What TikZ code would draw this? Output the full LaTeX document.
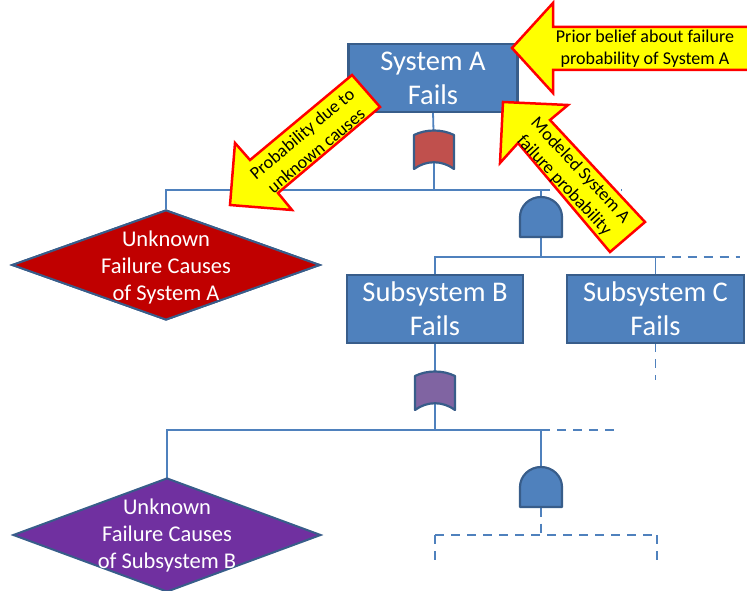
\documentclass[tikz,border=0pt]{standalone}
\usepackage{fontspec}
\setmainfont{Carlito}
\usetikzlibrary{shapes.geometric,calc}
\definecolor{boxfill}{HTML}{4F81BD}
\definecolor{boxline}{HTML}{385D8A}
\definecolor{unkred}{HTML}{C00000}
\definecolor{unkpurple}{HTML}{7030A0}
\definecolor{orred}{HTML}{C0504D}
\definecolor{orpurple}{HTML}{8064A2}
\definecolor{arrowfill}{HTML}{FFFF00}
\definecolor{arrowline}{HTML}{FF0000}
\newcommand{\draworgate}[2]{%
  \draw[gateline, fill=#2] ($(#1)+(-20,-15)$) .. controls ($(#1)+(-8,-21)$) and ($(#1)+(8,-21)$) .. ($(#1)+(20,-15)$)
    -- ($(#1)+(20,19)$) .. controls ($(#1)+(8,10)$) and ($(#1)+(-8,10)$) .. ($(#1)+(-20,19)$) -- cycle;}
\newcommand{\drawandgate}[1]{%
  \draw[gateline, fill=boxfill] ($(#1)+(-21,20)$) -- ($(#1)+(-21,0)$) .. controls ($(#1)+(-21,-11)$) and ($(#1)+(-11.6,-20)$) .. ($(#1)+(0,-20)$)
    .. controls ($(#1)+(11.6,-20)$) and ($(#1)+(21,-11)$) .. ($(#1)+(21,0)$) -- ($(#1)+(21,20)$) -- cycle;}
\begin{document}
\begin{tikzpicture}[x=1pt,y=-1pt,
  eventbox/.style={rectangle, draw=boxline, fill=boxfill, line width=2.5pt, minimum height=68pt,
    text=white, align=center, font=\fontsize{28.5}{34}\selectfont, inner sep=0pt},
  unkdiamond/.style={diamond, draw=boxline, line width=2pt, minimum width=308pt, minimum height=110pt, inner sep=0pt},
  unktext/.style={text=white, align=center, font=\fontsize{22.5}{27}\selectfont, inner sep=0pt},
  gatenode/.style={rectangle, minimum width=40pt, minimum height=40pt, inner sep=0pt},
  gateline/.style={draw=boxline, line width=2.2pt, line join=round},
  conn/.style={draw=boxfill, line width=1.8pt},
  dconn/.style={conn, dash pattern=on 9pt off 7pt},
  bigarrow/.style={fill=arrowfill, draw=arrowline, line width=2.5pt, line join=miter},
  arrowtext/.style={text=black, align=center, font=\fontsize{18}{22}\selectfont, inner sep=0pt}]
\useasboundingbox (0,0) rectangle (747,591);

% node positions
\node[gatenode, minimum width=169pt, minimum height=68pt] (sysA) at (433,78) {};
\node[gatenode] (orA) at (434,150) {};
\node[unkdiamond, fill=unkred] (unkA) at (166,265) {};
\node[gatenode, minimum width=42pt, minimum height=41pt] (andA) at (541,217) {};
\node[gatenode, minimum width=176pt, minimum height=68pt] (subB) at (435,309) {};
\node[gatenode, minimum width=177pt, minimum height=68pt] (subC) at (655.5,309) {};
\node[gatenode, minimum height=42pt] (orB) at (435,391) {};
\node[gatenode, minimum width=308pt, minimum height=114pt] (unkB) at (167,535) {};
\node[gatenode, minimum width=42pt, minimum height=41pt] (andB) at (541,487) {};

\coordinate (busA) at (0,190);
\coordinate (busAend) at (622,190);
\coordinate (busM) at (0,257);
\coordinate (busMend) at (740,257);
\coordinate (subCend) at (655.5,380);
\coordinate (busB) at (0,430);
\coordinate (busBend) at (620,430);
\coordinate (busL) at (0,535);
\coordinate (leafL) at (435,535);
\coordinate (leafR) at (657,535);
\coordinate (leafLend) at (435,566);
\coordinate (leafRend) at (657,566);

% connectors
\draw[conn] (sysA.south) -- (orA.center);
\draw[conn] (orA.center) -- (orA.center |- busA);
\draw[conn] (unkA.north) -- (unkA.north |- busA) -- (andA.center |- busA) -- (andA.center);
\draw[dconn] (andA.center |- busA) -- (busAend);
\draw[conn] (andA.center) -- (andA.center |- busM);
\draw[conn] (subB.north) -- (subB.north |- busM) -- (subC.north |- busM) -- (subC.north);
\draw[dconn] (subC.north |- busM) -- (busMend);
\draw[dconn] (subC.south) -- (subCend);
\draw[conn] (subB.south) -- (orB.center);
\draw[conn] (orB.center) -- (orB.center |- busB);
\draw[conn] (unkB.north) -- (unkB.north |- busB) -- (andB.center |- busB) -- (andB.center);
\draw[dconn] (andB.center |- busB) -- (busBend);
\draw[dconn] (andB.south) -- (andB.south |- busL);
\draw[dconn] (leafL) -- (leafR);
\draw[dconn] (leafL) -- (leafLend);
\draw[dconn] (leafR) -- (leafRend);

% shapes on top
\node[eventbox, minimum width=169pt] (sysAbox) at (sysA) {System A\\Fails};
\node[eventbox, minimum width=176pt] (subBbox) at (subB) {Subsystem B\\Fails};
\node[eventbox, minimum width=177pt] (subCbox) at (subC) {Subsystem C\\Fails};
\node[unkdiamond, fill=unkred] (unkAshape) at (unkA) {};
\node[unktext] (unkAtext) at (166,267) {Unknown\\Failure Causes\\of System A};
\node[unkdiamond, fill=unkpurple, minimum height=114pt] (unkBshape) at (unkB) {};
\node[unktext] (unkBtext) at (167,535) {Unknown\\Failure Causes\\of Subsystem B};
\draworgate{orA}{orred}
\draworgate{orB}{orpurple}
\drawandgate{andA}
\drawandgate{andB}

% callout arrows
\draw[bigarrow] (512,48) -- (553,3) -- (553,27) -- (770,27) -- (770,70) -- (553,70) -- (553,93) -- cycle;
\node[arrowtext] (priorText) at (645,49) {Prior belief about failure\\probability of System A};
\draw[bigarrow] (230,205) -- (235,143) -- (250,160) -- (352,75) -- (380,107) -- (278,193) -- (292,210) -- cycle;
\node[arrowtext, rotate=40] (probText) at (309,142) {Probability due to\\unknown causes};
\draw[bigarrow] (503,102) -- (568,105) -- (550,120) -- (645,222) -- (610,252) -- (518,143) -- (500,163) -- cycle;
\node[arrowtext, rotate=-47] (modText) at (572,178) {Modeled System A\\failure probability};
\end{tikzpicture}
\end{document}
